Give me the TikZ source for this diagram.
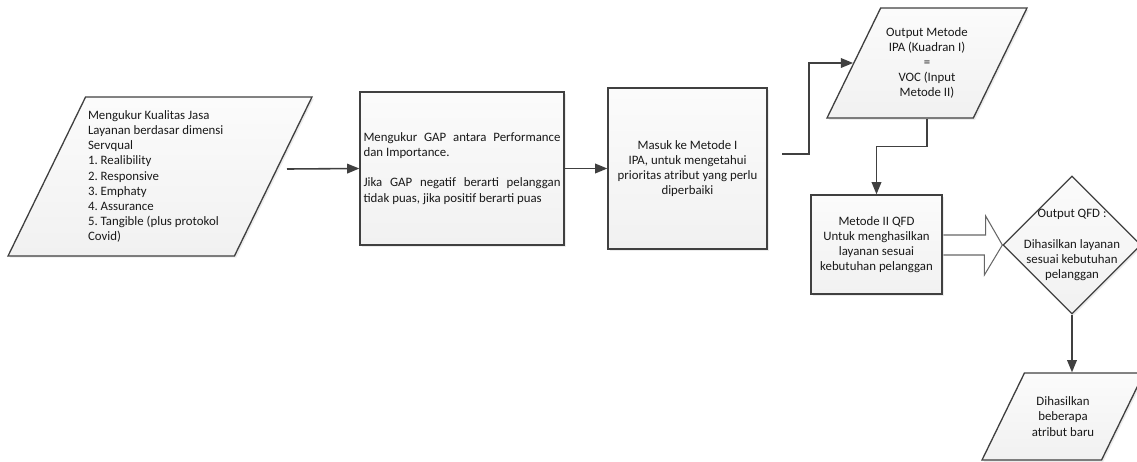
\documentclass[tikz,border=0pt]{standalone}
\usepackage{fontspec}
\setmainfont{Carlito}
\usetikzlibrary{shapes.geometric,arrows.meta,shadows,calc,backgrounds}
\frenchspacing

\tikzset{
  proc/.style={draw=black!75,line width=0.75pt,top color=gray!3,bottom color=gray!11,
    drop shadow={shadow xshift=1pt,shadow yshift=-1pt,fill=black!15}},
  procbox/.style={proc,rectangle},
  datain/.style={proc,trapezium,trapezium left angle=64,trapezium right angle=116,trapezium stretches body,inner sep=0pt},
  decide/.style={proc,diamond,inner sep=0pt},
  link/.style={draw=black!75,line width=0.9pt,-{Triangle[length=7pt,width=5.5pt]}},
  fatarrow/.style={draw=black!60,line width=0.6pt,fill=white}
}

\begin{document}
\begin{tikzpicture}[x=0.02cm,y=-0.02cm,every node/.style={font=\fontsize{7.3}{8.6}\selectfont,text=black!90}]
\useasboundingbox (0,0) rectangle (1137,461);
\node[datain,minimum width=6.08cm] (servq) at (160,176.5) {\parbox[c][3.18cm][c]{2.88cm}{\raggedright Mengukur Kualitas Jasa\\Layanan berdasar dimensi\\Servqual\\1. Realibility\\2. Responsive\\3. Emphaty\\4. Assurance\\5. Tangible (plus protokol\\Covid)}};
\node[procbox,minimum width=4.08cm,minimum height=3.06cm,text width=3.94cm,inner sep=0pt,align=justify] (gap) at (462,168.5) {Mengukur GAP antara Performance dan Importance.\\[\baselineskip]Jika GAP negatif berarti pelanggan tidak puas, jika positif berarti puas};
\node[procbox,minimum width=3.18cm,minimum height=3.22cm,align=center] (ipa) at (687.5,168.5) {Masuk ke Metode I\\IPA, untuk mengetahui\\prioritas atribut yang perlu\\diperbaiki};
\node[datain,minimum width=4cm] (voc) at (927,63) {\parbox[c][2.2cm][c]{1.8cm}{\centering Output Metode\\IPA (Kuadran I)\\=\\VOC (Input\\Metode II)}};
\node[procbox,minimum width=2.62cm,minimum height=1.98cm,align=center] (qfd) at (876.5,244.5) {Metode II QFD\\Untuk menghasilkan\\layanan sesuai\\kebutuhan pelanggan};
\node[decide,minimum width=2.76cm,minimum height=2.76cm] (dec) at (1072,245) {};
\node[align=center] (dectxt) at (dec) {Output QFD :\\[\baselineskip]Dihasilkan layanan\\sesuai kebutuhan\\pelanggan};
\node[datain,minimum width=3.24cm] (baru) at (1063,416.5) {\parbox[c][1.74cm][c]{1.5cm}{\centering Dihasilkan\\beberapa\\atribut baru}};

\coordinate (s1) at (287,169);
\coordinate (s3) at (782,154);
\draw[link] (s1) -- (gap.west);
\draw[link] (gap) -- (ipa);
\draw[link] (s3) -- ++(27,0) |- (voc.west);
\draw[link] (voc.south) -- ++(0,28) -| (qfd.north);
\begin{scope}[on background layer]
\draw[fatarrow] ($(qfd.east |- dec.west)+(0,-10)$) -- ++(43,0) -- ++(0,-19) -- (dec.west) -- ($(dec.west)+(-18,30)$) -- ++(0,-20) -- ($(qfd.east |- dec.west)+(0,10)$);
\end{scope}
\draw[link] (dec.south) -- (dec.south |- baru.north);
\end{tikzpicture}
\end{document}
